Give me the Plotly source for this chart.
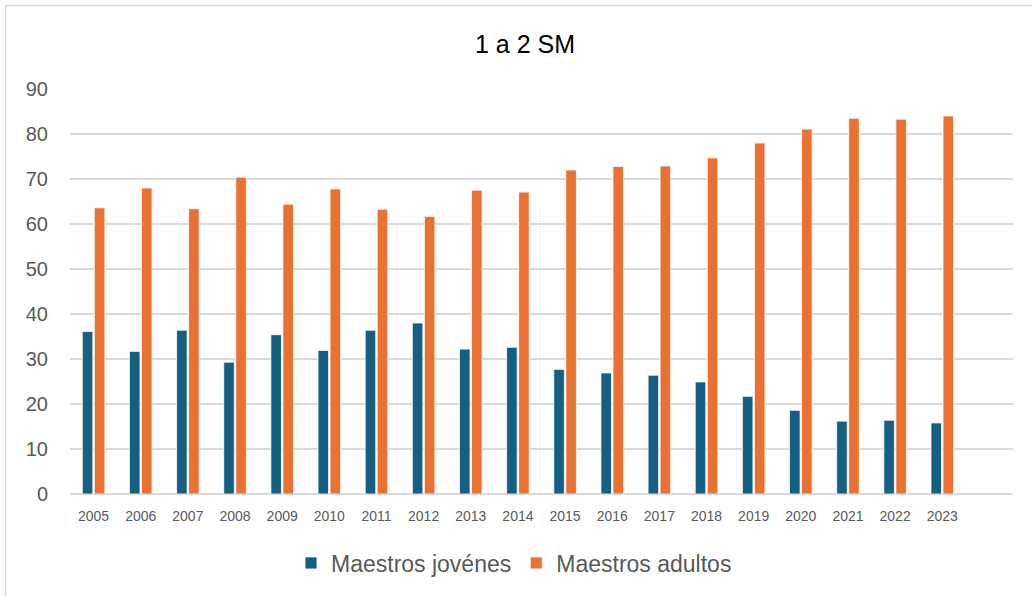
import plotly.graph_objects as go

# Años y porcentajes por grupo de edad (1 a 2 SM)
years = [str(y) for y in range(2005, 2024)]
jovenes = [36.1, 31.7, 36.4, 29.3, 35.4, 31.9, 36.4, 38.0, 32.2, 32.6,
           27.7, 26.9, 26.4, 24.9, 21.7, 18.6, 16.2, 16.4, 15.8]
adultos = [63.6, 68.0, 63.4, 70.4, 64.4, 67.8, 63.3, 61.7, 67.5, 67.1,
           72.0, 72.8, 72.9, 74.7, 78.0, 81.1, 83.5, 83.3, 84.0]
y_ticks = [0, 10, 20, 30, 40, 50, 60, 70, 80, 90]

BLUE = "#156082"
ORANGE = "#E97132"
GRID = "#D9D9D9"
TEXT = "#595959"
FONT = "Liberation Sans, Arial, sans-serif"

W, H = 1032, 596
L, R, T, B = 70, 19, 89, 102

fig = go.Figure()
fig.add_trace(go.Bar(x=years, y=jovenes, name="Maestros jovénes",
                     marker=dict(color=BLUE, line=dict(color="white", width=0.8))))
fig.add_trace(go.Bar(x=years, y=adultos, name="Maestros adultos",
                     marker=dict(color=ORANGE, line=dict(color="white", width=0.8))))

# pixel -> paper helpers
pw, ph = W - L - R, H - T - B
def px_x(p):
    return (p - L) / pw
def px_y(p):
    return (H - B - p) / ph

# light frame around the chart area
fig.add_shape(type="rect", xref="paper", yref="paper",
              x0=px_x(5.5), x1=px_x(1045), y0=px_y(605), y1=px_y(5.5),
              line=dict(color=GRID, width=1.5), fillcolor="rgba(0,0,0,0)",
              layer="below")

fig.update_layout(
    width=W, height=H,
    margin=dict(l=L, r=R, t=T, b=B, autoexpand=False),
    paper_bgcolor="white", plot_bgcolor="white",
    title=dict(text="1 a 2 SM", x=px_x(525), xref="paper", xanchor="center",
               y=1 - 44 / H, yanchor="middle",
               font=dict(family=FONT, size=25, color="#000000")),
    barmode="group", bargap=0.49, bargroupgap=0.12,
    font=dict(family=FONT, color=TEXT),
    xaxis=dict(type="category", range=[-0.5, 19.5], showgrid=False,
               showline=False, ticks="", zeroline=False,
               ticklabelstandoff=12, tickangle=0,
               tickfont=dict(family=FONT, size=14, color=TEXT)),
    yaxis=dict(range=[0, 90], tickvals=y_ticks, showgrid=True,
               gridcolor=GRID, gridwidth=1.5, zeroline=True,
               zerolinecolor=GRID, zerolinewidth=1.5, showline=False,
               ticks="", ticklabelstandoff=21,
               tickfont=dict(family=FONT, size=20, color=TEXT)),
    legend=dict(orientation="h", x=px_x(514), xref="paper", xanchor="center",
                y=px_y(563), yanchor="middle", itemwidth=30,
                font=dict(family=FONT, size=23, color=TEXT),
                traceorder="normal"),
)

fig.write_html("out.html")
